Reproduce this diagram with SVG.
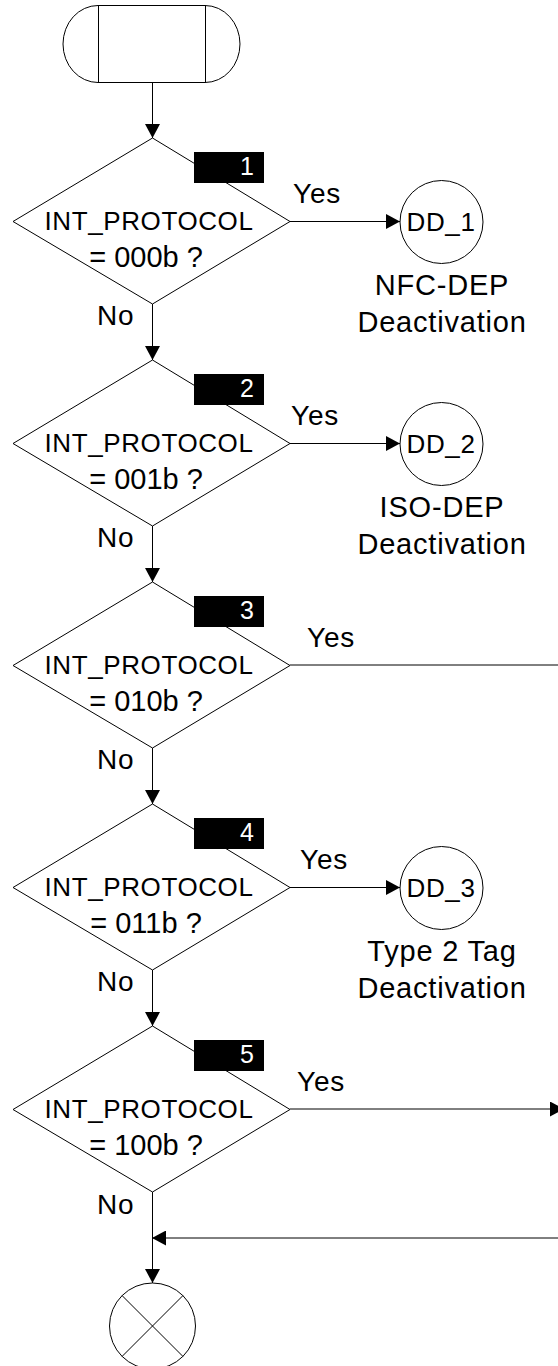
<svg xmlns="http://www.w3.org/2000/svg" width="558" height="1366" viewBox="0 0 558 1366">
<style>
.s{fill:#fff;stroke:#000;stroke-width:1}
.ln{fill:none;stroke:#000;stroke-width:1}
.t{font-family:"Liberation Sans",Arial,sans-serif;font-size:26px;letter-spacing:0.6px;fill:#000;text-anchor:middle}
.e{font-family:"Liberation Sans",Arial,sans-serif;font-size:29px;fill:#000;text-anchor:middle}
.y{font-family:"Liberation Sans",Arial,sans-serif;font-size:28px;letter-spacing:0.8px;fill:#000}
.c{font-family:"Liberation Sans",Arial,sans-serif;font-size:29px;letter-spacing:0.8px;fill:#000;text-anchor:middle}
.b{fill:#000}
.n{font-family:"Liberation Sans",Arial,sans-serif;font-size:25px;fill:#fff;text-anchor:end}
</style>
<defs>
<marker id="ah" markerUnits="userSpaceOnUse" markerWidth="15" markerHeight="15" refX="14" refY="7.5" orient="auto">
<path d="M0,0 L14,7.5 L0,15 Z" fill="#000"/>
</marker>
</defs>
<g id="connectors">
<line class="ln" x1="152.5" y1="82" x2="152.5" y2="138" marker-end="url(#ah)"/>
<line class="ln" x1="152.5" y1="304" x2="152.5" y2="360" marker-end="url(#ah)"/>
<line class="ln" x1="152.5" y1="526" x2="152.5" y2="582" marker-end="url(#ah)"/>
<line class="ln" x1="152.5" y1="748" x2="152.5" y2="804" marker-end="url(#ah)"/>
<line class="ln" x1="152.5" y1="970" x2="152.5" y2="1026" marker-end="url(#ah)"/>
<line class="ln" x1="152.5" y1="1192" x2="152.5" y2="1283" marker-end="url(#ah)"/>
<line class="ln" x1="290" y1="221.5" x2="400" y2="221.5" marker-end="url(#ah)"/>
<line class="ln" x1="290" y1="443.5" x2="400" y2="443.5" marker-end="url(#ah)"/>
<line class="ln" x1="290" y1="665" x2="560" y2="665"/>
<line class="ln" x1="290" y1="887.5" x2="400" y2="887.5" marker-end="url(#ah)"/>
<line class="ln" x1="290" y1="1109" x2="564" y2="1109" marker-end="url(#ah)"/>
<line class="ln" x1="560" y1="1238" x2="152" y2="1238" marker-end="url(#ah)"/>
<text class="y" x="293" y="203">Yes</text>
<text class="y" x="291" y="425">Yes</text>
<text class="y" x="307" y="647">Yes</text>
<text class="y" x="300" y="869">Yes</text>
<text class="y" x="297" y="1091">Yes</text>
<text class="y" x="97" y="325">No</text>
<text class="y" x="97" y="547">No</text>
<text class="y" x="97" y="769">No</text>
<text class="y" x="97" y="991">No</text>
<text class="y" x="97" y="1214">No</text>
</g>
<g id="start">
<path class="s" d="M98,5.5 H205 A35,38.5 0 0 1 205,82.5 H98 A35,38.5 0 0 1 98,5.5 Z"/>
<line class="ln" x1="98.5" y1="5.5" x2="98.5" y2="82.5"/>
<line class="ln" x1="205.5" y1="5.5" x2="205.5" y2="82.5"/>
</g>
<g id="d1">
<polygon class="s" points="152.5,138 290,221.5 152.5,304 13,221.5"/>
<rect class="b" x="194" y="152" width="70" height="31"/>
<text class="n" x="254" y="175">1</text>
<text class="t" x="149" y="230">INT_PROTOCOL</text>
<text class="e" x="146" y="267">= 000b ?</text>
</g>
<g id="d2">
<polygon class="s" points="152.5,360 290,443.5 152.5,526 13,443.5"/>
<rect class="b" x="194" y="374" width="70" height="31"/>
<text class="n" x="254" y="397">2</text>
<text class="t" x="149" y="452">INT_PROTOCOL</text>
<text class="e" x="146" y="489">= 001b ?</text>
</g>
<g id="d3">
<polygon class="s" points="152.5,582 290,665.5 152.5,748 13,665.5"/>
<rect class="b" x="194" y="596" width="70" height="31"/>
<text class="n" x="254" y="619">3</text>
<text class="t" x="149" y="674">INT_PROTOCOL</text>
<text class="e" x="146" y="711">= 010b ?</text>
</g>
<g id="d4">
<polygon class="s" points="152.5,804 290,887.5 152.5,970 13,887.5"/>
<rect class="b" x="194" y="818" width="70" height="31"/>
<text class="n" x="254" y="841">4</text>
<text class="t" x="149" y="896">INT_PROTOCOL</text>
<text class="e" x="146" y="933">= 011b ?</text>
</g>
<g id="d5">
<polygon class="s" points="152.5,1026 290,1109.5 152.5,1192 13,1109.5"/>
<rect class="b" x="194" y="1040" width="70" height="31"/>
<text class="n" x="254" y="1063">5</text>
<text class="t" x="149" y="1118">INT_PROTOCOL</text>
<text class="e" x="146" y="1155">= 100b ?</text>
</g>
<g id="dd1">
<circle class="s" cx="441.5" cy="222" r="41.5"/>
<text class="t" x="441" y="231">DD_1</text>
<text class="c" x="442" y="295">NFC-DEP</text>
<text class="c" x="442" y="332">Deactivation</text>
</g>
<g id="dd2">
<circle class="s" cx="441.5" cy="444" r="41.5"/>
<text class="t" x="441" y="453">DD_2</text>
<text class="c" x="442" y="517">ISO-DEP</text>
<text class="c" x="442" y="554">Deactivation</text>
</g>
<g id="dd3">
<circle class="s" cx="441.5" cy="888" r="41.5"/>
<text class="t" x="441" y="897">DD_3</text>
<text class="c" x="442" y="961">Type 2 Tag</text>
<text class="c" x="442" y="998">Deactivation</text>
</g>
<g id="end">
<circle class="s" cx="152.5" cy="1326" r="43"/>
<line class="ln" x1="122" y1="1295.5" x2="183" y2="1356.5"/>
<line class="ln" x1="183" y1="1295.5" x2="122" y2="1356.5"/>
</g>
</svg>
